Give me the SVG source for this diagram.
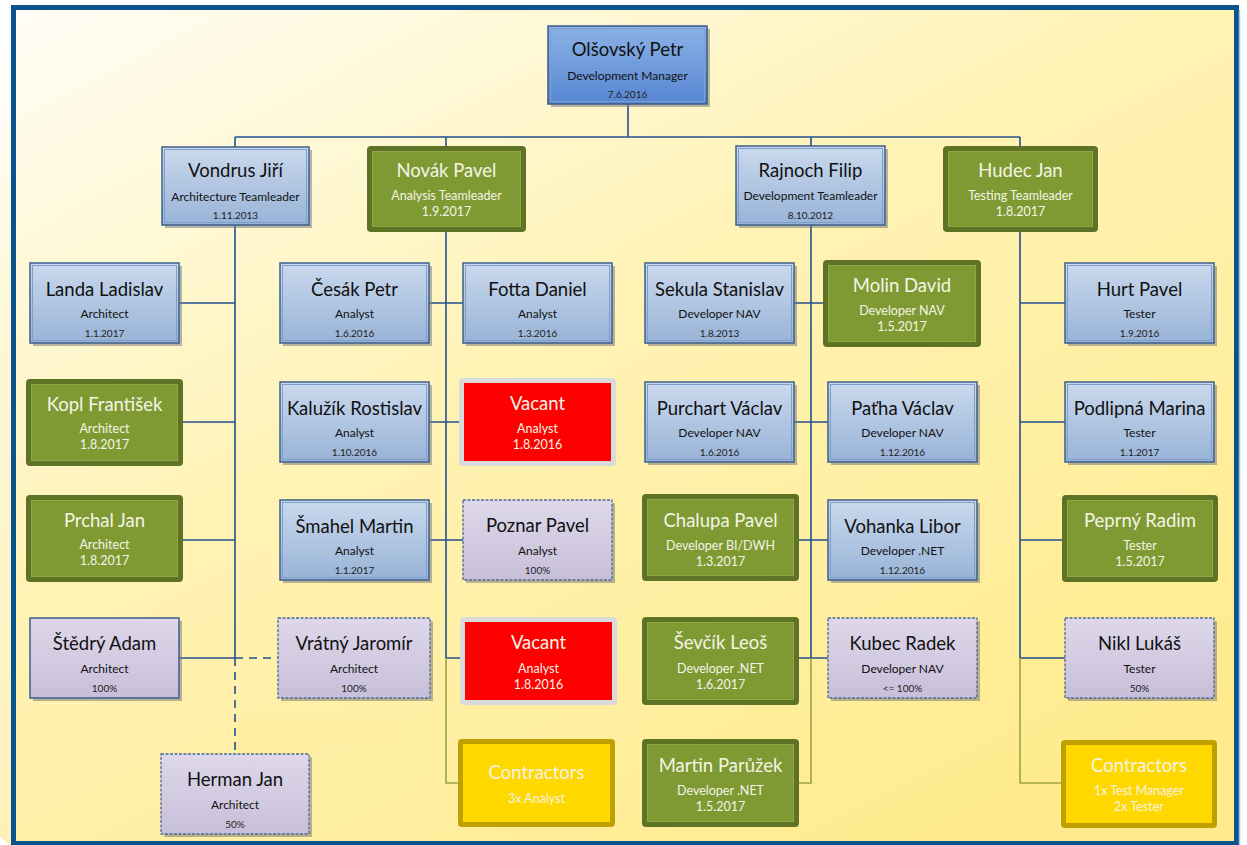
<svg xmlns="http://www.w3.org/2000/svg" width="1247" height="845" viewBox="0 0 1247 845">
  <defs>
    <linearGradient id="bg" x1="0" y1="0" x2="0.75" y2="1">
      <stop offset="0" stop-color="#fffdf6"/>
      <stop offset="0.45" stop-color="#fff3b6"/>
      <stop offset="1" stop-color="#ffeb8e"/>
    </linearGradient>
    <linearGradient id="strip" x1="0" y1="0" x2="0" y2="1">
      <stop offset="0" stop-color="#ffffff"/>
      <stop offset="0.3" stop-color="#fef8dc"/>
      <stop offset="1" stop-color="#fdf1b8"/>
    </linearGradient>
    <linearGradient id="gBlue" x1="0" y1="0" x2="0" y2="1">
      <stop offset="0" stop-color="#cad9ed"/>
      <stop offset="1" stop-color="#98b3d7"/>
    </linearGradient>
    <linearGradient id="gBlueTop" x1="0" y1="0" x2="0" y2="1">
      <stop offset="0" stop-color="#8cb2e6"/>
      <stop offset="1" stop-color="#5686d2"/>
    </linearGradient>
    <linearGradient id="gLav" x1="0" y1="0" x2="0" y2="1">
      <stop offset="0" stop-color="#ded8ea"/>
      <stop offset="1" stop-color="#c7bfd9"/>
    </linearGradient>
  </defs>
  <style>
    text { font-family: Lato, "Open Sans", "Liberation Sans", sans-serif; text-anchor: middle; }
    .nm { font-size: 18.5px; fill: #111; }
    .rl { font-size: 12px; fill: #111; }
    .dt { font-size: 10px; fill: #222; }
    .w .nm, .w .rl, .w .dt { fill: #f4f4e6; }
    .w .rl { font-size: 12.5px; }
    .w .dt { font-size: 12.5px; }
    .shd { fill: #7d7d7d; opacity: 0.55; }
    .blue { fill: url(#gBlue); stroke: #3d5f8d; stroke-width: 1.5; }
    .blueTop { fill: url(#gBlueTop); stroke: #3a5a88; stroke-width: 1.5; }
    .inner { fill: none; stroke: #7f9fcb; stroke-width: 1; }
    .lav { fill: url(#gLav); stroke: #3d5f8d; stroke-width: 1.5; }
    .lavd { fill: url(#gLav); stroke: #4d6a94; stroke-width: 1.3; stroke-dasharray: 3 1.5; }
    .gOut { fill: #5f7327; }
    .gIn { fill: #7f9a33; stroke: #8da743; stroke-width: 1; }
    .rOut { fill: #dadada; }
    .rIn { fill: #ff0000; }
    .yOut { fill: #bea100; }
    .yIn { fill: #ffd800; }
    .ln { fill: none; stroke: #24508f; stroke-width: 1.6; }
    .ol { fill: none; stroke: #9aa445; stroke-width: 1.6; }
    .dash { fill: none; stroke: #24508f; stroke-width: 1.6; stroke-dasharray: 8 6; }
  </style>

  <!-- page and frame -->
  <rect x="0" y="0" width="1247" height="845" fill="#ffffff"/>
  <polygon points="0,40 11,40 11,845 9,845 0,836" fill="url(#strip)"/>
  <rect x="13.5" y="7.5" width="1223" height="836" fill="url(#bg)" stroke="#0b538d" stroke-width="5"/>
  <line x1="1239.5" y1="10" x2="1239.5" y2="845" stroke="#a9c6e2" stroke-width="1.5"/>
  <path d="M237,718 H405 V743 H320 V754 H237 Z" fill="#ffee9e" opacity="0.8"/>

  <!-- connectors -->
  <g id="connectors">
    <path class="ln" d="M628,104 V137 M235,137 H1020 M235,137 V147 M446,137 V146 M811,137 V146 M1020,137 V146"/>
    <path class="ln" d="M235,225 V658 M179,303 H235 M183,422 H235 M183,540 H235 M179,658 H235"/>
    <path class="dash" d="M235,658 V754 M235,658 H278"/>
    <path class="ln" d="M446,232 V658 M429,303 H463 M429,422 H459 M429,540 H463 M446,658 H460"/>
    <path class="ol" d="M446,658 V783 H458"/>
    <path class="ln" d="M811,225 V658 M794,303 H823 M794,422 H828 M799,540 H828 M799,658 H828"/>
    <path class="ol" d="M811,658 V783 H799"/>
    <path class="ln" d="M1020,232 V658 M1020,303 H1065 M1020,422 H1065 M1020,540 H1062 M1020,658 H1065"/>
    <path class="ol" d="M1020,658 V783 H1061"/>
  </g>

  <!-- top -->
  <g id="olsovsky">
    <rect class="shd" x="551" y="29" width="159" height="78"/>
    <rect class="blueTop" x="548" y="26" width="159" height="78"/>
    <rect class="inner" x="550.5" y="28.5" width="154" height="73" stroke="#6f98d6"/>
    <text class="nm" x="627.5" y="56" font-size="20">Olšovský Petr</text>
    <text class="rl" x="627.5" y="80">Development Manager</text>
    <text class="dt" x="627.5" y="98">7.6.2016</text>
  </g>

  <!-- team leaders -->
  <g id="vondrus">
    <rect class="shd" x="165" y="150" width="147" height="78"/>
    <rect class="blue" x="162" y="147" width="147" height="78"/>
    <rect class="inner" x="164.5" y="149.5" width="142" height="73"/>
    <text class="nm" x="235.5" y="177">Vondrus Jiří</text>
    <text class="rl" x="235.5" y="201">Architecture Teamleader</text>
    <text class="dt" x="235.5" y="219">1.11.2013</text>
  </g>
  <g id="novak" class="w">
    <rect class="gOut" x="367" y="146" width="159" height="86" rx="4"/>
    <rect class="gIn" x="372.5" y="151.5" width="148" height="75"/>
    <text class="nm" x="446.5" y="177">Novák Pavel</text>
    <text class="rl" x="446.5" y="200">Analysis Teamleader</text>
    <text class="dt" x="446.5" y="216">1.9.2017</text>
  </g>
  <g id="rajnoch">
    <rect class="shd" x="739" y="149" width="149" height="79"/>
    <rect class="blue" x="736" y="146" width="149" height="79"/>
    <rect class="inner" x="738.5" y="148.5" width="144" height="74"/>
    <text class="nm" x="810.5" y="177">Rajnoch Filip</text>
    <text class="rl" x="810.5" y="200">Development Teamleader</text>
    <text class="dt" x="810.5" y="219">8.10.2012</text>
  </g>
  <g id="hudec" class="w">
    <rect class="gOut" x="943" y="146" width="155" height="86" rx="4"/>
    <rect class="gIn" x="948.5" y="151.5" width="144" height="75"/>
    <text class="nm" x="1020.5" y="177">Hudec Jan</text>
    <text class="rl" x="1020.5" y="200">Testing Teamleader</text>
    <text class="dt" x="1020.5" y="216">1.8.2017</text>
  </g>

  <!-- architecture -->
  <g id="landa">
    <rect class="shd" x="33" y="266" width="149" height="80"/>
    <rect class="blue" x="30" y="263" width="149" height="80"/>
    <rect class="inner" x="32.5" y="265.5" width="144" height="75"/>
    <text class="nm" x="104.5" y="296">Landa Ladislav</text>
    <text class="rl" x="104.5" y="318">Architect</text>
    <text class="dt" x="104.5" y="337">1.1.2017</text>
  </g>
  <g id="kopl" class="w">
    <rect class="gOut" x="26" y="379" width="157" height="87" rx="4"/>
    <rect class="gIn" x="31.5" y="384.5" width="146" height="76"/>
    <text class="nm" x="104.5" y="411">Kopl František</text>
    <text class="rl" x="104.5" y="433">Architect</text>
    <text class="dt" x="104.5" y="449">1.8.2017</text>
  </g>
  <g id="prchal" class="w">
    <rect class="gOut" x="26" y="495" width="157" height="87" rx="4"/>
    <rect class="gIn" x="31.5" y="500.5" width="146" height="76"/>
    <text class="nm" x="104.5" y="527">Prchal Jan</text>
    <text class="rl" x="104.5" y="549">Architect</text>
    <text class="dt" x="104.5" y="565">1.8.2017</text>
  </g>
  <g id="stedry">
    <rect class="shd" x="33" y="621" width="149" height="80"/>
    <rect class="lav" x="30" y="618" width="149" height="80"/>
    <text class="nm" x="104.5" y="650">Štědrý Adam</text>
    <text class="rl" x="104.5" y="673">Architect</text>
    <text class="dt" x="104.5" y="692">100%</text>
  </g>
  <g id="herman">
    <rect class="shd" x="164" y="757" width="148" height="80"/>
    <rect class="lavd" x="161" y="754" width="148" height="80"/>
    <text class="nm" x="235" y="786">Herman Jan</text>
    <text class="rl" x="235" y="809">Architect</text>
    <text class="dt" x="235" y="828">50%</text>
  </g>

  <!-- analysis -->
  <g id="cesak">
    <rect class="shd" x="283" y="266" width="149" height="80"/>
    <rect class="blue" x="280" y="263" width="149" height="80"/>
    <rect class="inner" x="282.5" y="265.5" width="144" height="75"/>
    <text class="nm" x="354.5" y="296">Česák Petr</text>
    <text class="rl" x="354.5" y="318">Analyst</text>
    <text class="dt" x="354.5" y="337">1.6.2016</text>
  </g>
  <g id="kaluzik">
    <rect class="shd" x="283" y="385" width="149" height="80"/>
    <rect class="blue" x="280" y="382" width="149" height="80"/>
    <rect class="inner" x="282.5" y="384.5" width="144" height="75"/>
    <text class="nm" x="354.5" y="415">Kalužík Rostislav</text>
    <text class="rl" x="354.5" y="437">Analyst</text>
    <text class="dt" x="354.5" y="456">1.10.2016</text>
  </g>
  <g id="smahel">
    <rect class="shd" x="283" y="503" width="149" height="80"/>
    <rect class="blue" x="280" y="500" width="149" height="80"/>
    <rect class="inner" x="282.5" y="502.5" width="144" height="75"/>
    <text class="nm" x="354.5" y="533">Šmahel Martin</text>
    <text class="rl" x="354.5" y="555">Analyst</text>
    <text class="dt" x="354.5" y="574">1.1.2017</text>
  </g>
  <g id="vratny">
    <rect class="shd" x="281" y="621" width="152" height="80"/>
    <rect class="lavd" x="278" y="618" width="152" height="80"/>
    <text class="nm" x="354" y="650">Vrátný Jaromír</text>
    <text class="rl" x="354" y="673">Architect</text>
    <text class="dt" x="354" y="692">100%</text>
  </g>
  <g id="fotta">
    <rect class="shd" x="466" y="266" width="149" height="80"/>
    <rect class="blue" x="463" y="263" width="149" height="80"/>
    <rect class="inner" x="465.5" y="265.5" width="144" height="75"/>
    <text class="nm" x="537.5" y="296">Fotta Daniel</text>
    <text class="rl" x="537.5" y="318">Analyst</text>
    <text class="dt" x="537.5" y="337">1.3.2016</text>
  </g>
  <g id="vacant1" class="w">
    <rect class="rOut" x="459" y="378" width="157" height="88" rx="4"/>
    <rect class="rIn" x="464" y="383" width="147" height="78"/>
    <text class="nm" x="537.5" y="410">Vacant</text>
    <text class="rl" x="537.5" y="433">Analyst</text>
    <text class="dt" x="537.5" y="449">1.8.2016</text>
  </g>
  <g id="poznar">
    <rect class="shd" x="466" y="503" width="149" height="80"/>
    <rect class="lavd" x="463" y="500" width="149" height="80"/>
    <text class="nm" x="537.5" y="532">Poznar Pavel</text>
    <text class="rl" x="537.5" y="555">Analyst</text>
    <text class="dt" x="537.5" y="574">100%</text>
  </g>
  <g id="vacant2" class="w">
    <rect class="rOut" x="460" y="617" width="157" height="88" rx="4"/>
    <rect class="rIn" x="465" y="622" width="147" height="78"/>
    <text class="nm" x="538.5" y="649">Vacant</text>
    <text class="rl" x="538.5" y="673">Analyst</text>
    <text class="dt" x="538.5" y="689">1.8.2016</text>
  </g>
  <g id="contractors-analysis" class="w">
    <rect class="yOut" x="458" y="739" width="157" height="88" rx="4"/>
    <rect class="yIn" x="463" y="744" width="147" height="78"/>
    <text class="nm" x="536.5" y="779" font-size="16.5">Contractors</text>
    <text class="rl" x="536.5" y="803">3x Analyst</text>
  </g>

  <!-- development -->
  <g id="sekula">
    <rect class="shd" x="648" y="266" width="149" height="80"/>
    <rect class="blue" x="645" y="263" width="149" height="80"/>
    <rect class="inner" x="647.5" y="265.5" width="144" height="75"/>
    <text class="nm" x="719.5" y="296">Sekula Stanislav</text>
    <text class="rl" x="719.5" y="318">Developer NAV</text>
    <text class="dt" x="719.5" y="337">1.8.2013</text>
  </g>
  <g id="purchart">
    <rect class="shd" x="648" y="385" width="149" height="80"/>
    <rect class="blue" x="645" y="382" width="149" height="80"/>
    <rect class="inner" x="647.5" y="384.5" width="144" height="75"/>
    <text class="nm" x="719.5" y="415">Purchart Václav</text>
    <text class="rl" x="719.5" y="437">Developer NAV</text>
    <text class="dt" x="719.5" y="456">1.6.2016</text>
  </g>
  <g id="chalupa" class="w">
    <rect class="gOut" x="642" y="494" width="157" height="87" rx="4"/>
    <rect class="gIn" x="647.5" y="499.5" width="146" height="76"/>
    <text class="nm" x="720.5" y="527">Chalupa Pavel</text>
    <text class="rl" x="720.5" y="550">Developer BI/DWH</text>
    <text class="dt" x="720.5" y="566">1.3.2017</text>
  </g>
  <g id="sevcik" class="w">
    <rect class="gOut" x="642" y="617" width="157" height="88" rx="4"/>
    <rect class="gIn" x="647.5" y="622.5" width="146" height="77"/>
    <text class="nm" x="720.5" y="649">Ševčík Leoš</text>
    <text class="rl" x="720.5" y="673">Developer .NET</text>
    <text class="dt" x="720.5" y="689">1.6.2017</text>
  </g>
  <g id="paruzek" class="w">
    <rect class="gOut" x="642" y="739" width="157" height="88" rx="4"/>
    <rect class="gIn" x="647.5" y="744.5" width="146" height="77"/>
    <text class="nm" x="720.5" y="772">Martin Parůžek</text>
    <text class="rl" x="720.5" y="795">Developer .NET</text>
    <text class="dt" x="720.5" y="811">1.5.2017</text>
  </g>
  <g id="molin" class="w">
    <rect class="gOut" x="823" y="260" width="158" height="87" rx="4"/>
    <rect class="gIn" x="828.5" y="265.5" width="147" height="76"/>
    <text class="nm" x="902" y="292">Molin David</text>
    <text class="rl" x="902" y="315">Developer NAV</text>
    <text class="dt" x="902" y="331">1.5.2017</text>
  </g>
  <g id="patha">
    <rect class="shd" x="831" y="385" width="149" height="80"/>
    <rect class="blue" x="828" y="382" width="149" height="80"/>
    <rect class="inner" x="830.5" y="384.5" width="144" height="75"/>
    <text class="nm" x="902.5" y="415">Paťha Václav</text>
    <text class="rl" x="902.5" y="437">Developer NAV</text>
    <text class="dt" x="902.5" y="456">1.12.2016</text>
  </g>
  <g id="vohanka">
    <rect class="shd" x="831" y="503" width="149" height="80"/>
    <rect class="blue" x="828" y="500" width="149" height="80"/>
    <rect class="inner" x="830.5" y="502.5" width="144" height="75"/>
    <text class="nm" x="902.5" y="533">Vohanka Libor</text>
    <text class="rl" x="902.5" y="555">Developer .NET</text>
    <text class="dt" x="902.5" y="574">1.12.2016</text>
  </g>
  <g id="kubec">
    <rect class="shd" x="831" y="621" width="149" height="80"/>
    <rect class="lavd" x="828" y="618" width="149" height="80"/>
    <text class="nm" x="902.5" y="650">Kubec Radek</text>
    <text class="rl" x="902.5" y="673">Developer NAV</text>
    <text class="dt" x="902.5" y="692">&lt;= 100%</text>
  </g>

  <!-- testing -->
  <g id="hurt">
    <rect class="shd" x="1068" y="266" width="149" height="80"/>
    <rect class="blue" x="1065" y="263" width="149" height="80"/>
    <rect class="inner" x="1067.5" y="265.5" width="144" height="75"/>
    <text class="nm" x="1139.5" y="296">Hurt Pavel</text>
    <text class="rl" x="1139.5" y="318">Tester</text>
    <text class="dt" x="1139.5" y="337">1.9.2016</text>
  </g>
  <g id="podlipna">
    <rect class="shd" x="1068" y="385" width="149" height="80"/>
    <rect class="blue" x="1065" y="382" width="149" height="80"/>
    <rect class="inner" x="1067.5" y="384.5" width="144" height="75"/>
    <text class="nm" x="1139.5" y="415">Podlipná Marina</text>
    <text class="rl" x="1139.5" y="437">Tester</text>
    <text class="dt" x="1139.5" y="456">1.1.2017</text>
  </g>
  <g id="peprny" class="w">
    <rect class="gOut" x="1062" y="495" width="156" height="87" rx="4"/>
    <rect class="gIn" x="1067.5" y="500.5" width="145" height="76"/>
    <text class="nm" x="1140" y="527">Peprný Radim</text>
    <text class="rl" x="1140" y="550">Tester</text>
    <text class="dt" x="1140" y="566">1.5.2017</text>
  </g>
  <g id="nikl">
    <rect class="shd" x="1068" y="621" width="149" height="80"/>
    <rect class="lavd" x="1065" y="618" width="149" height="80"/>
    <text class="nm" x="1139.5" y="650">Nikl Lukáš</text>
    <text class="rl" x="1139.5" y="673">Tester</text>
    <text class="dt" x="1139.5" y="692">50%</text>
  </g>
  <g id="contractors-testing" class="w">
    <rect class="yOut" x="1061" y="740" width="156" height="88" rx="4"/>
    <rect class="yIn" x="1066" y="745" width="146" height="78"/>
    <text class="nm" x="1139" y="772" font-size="16.5">Contractors</text>
    <text class="rl" x="1139" y="795">1x Test Manager</text>
    <text class="rl" x="1139" y="811">2x Tester</text>
  </g>
</svg>
